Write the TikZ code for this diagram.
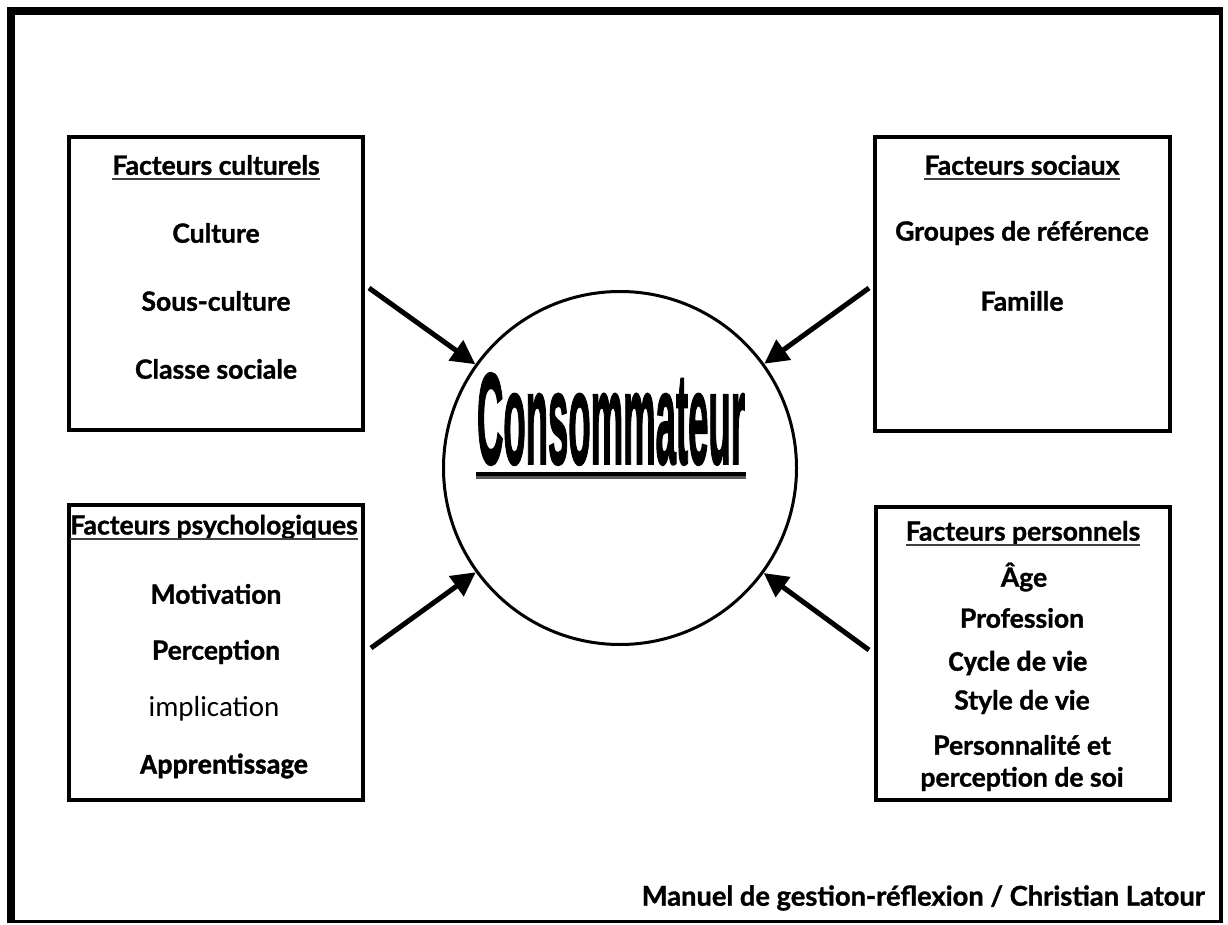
\documentclass[tikz,border=0pt]{standalone}
\usepackage{fontspec}
\usepackage{graphicx}
\setmainfont{Lato}[BoldFeatures={FakeBold=1.2}]
\newfontfamily\calfont{Carlito}[BoldFeatures={FakeBold=1.2}]
\newfontfamily\bigfont{Liberation Sans}[BoldFeatures={FakeBold=2}]
\usetikzlibrary{arrows.meta}
\begin{document}
\begin{tikzpicture}[x=1pt,y=-1pt,
  factorbox/.style={draw=black,line width=4pt,rectangle,inner sep=0pt},
  txt/.style={font=\fontsize{26.5}{30}\selectfont\bfseries,inner sep=0pt,anchor=center},
  ttl/.style={txt},
  ttlline/.style={draw=black!75,line width=1.8pt},
  caltxt/.style={txt,font=\calfont\fontsize{28.5}{32}\selectfont\bfseries},
  arr/.style={line width=5pt,-{Triangle[length=24pt,width=24pt]}}]
\useasboundingbox (0,0) rectangle (1228,925);
% outer frame: heavy left/top edges, thin right/bottom edges
\fill[black] (7,7) rectangle (15,923);
\fill[black] (7,7) rectangle (1223,15);
\fill[black] (1219,7) rectangle (1223,923);
\fill[black] (7,920) rectangle (1223,923);

% factor boxes
\node[factorbox,minimum width=294pt,minimum height=293pt] (cult) at (216,283.5) {};
\node[factorbox,minimum width=295pt,minimum height=294pt] (soc) at (1022.5,284) {};
\node[factorbox,minimum width=294pt,minimum height=295pt] (psy) at (216,652.5) {};
\node[factorbox,minimum width=294pt,minimum height=293pt] (pers) at (1023,653.5) {};

% consumer circle
\node[draw=black,line width=3pt,circle,minimum size=353pt,inner sep=0pt] (cons) at (620,468) {};
\node[inner sep=0pt] (constxt) at (611,419) {\scalebox{0.29}[1.03]{\bigfont\bfseries\fontsize{126}{130}\selectfont Consommateur}};
\fill[black] (476,472) rectangle (746,476);
\fill[black!65] (476,476) rectangle (746,479);

% box texts
\node[ttl] (t1) at (216,165) {Facteurs culturels};
\node[txt] (c1) at (216,233) {Culture};
\node[txt] (c2) at (216,301) {Sous-culture};
\node[txt] (c3) at (216,369) {Classe sociale};

\node[ttl] (t2) at (1022,165) {Facteurs sociaux};
\node[txt] (s1) at (1022,233) {Groupes de référence};
\node[txt] (s2) at (1022,301) {Famille};

\node[ttl] (t3) at (214,527) {Facteurs psychologiques};
\node[txt] (p1) at (216,594) {Motivation};
\node[txt] (p2) at (216,652) {Perception};
\node[caltxt,font=\calfont\fontsize{29}{32}\selectfont] (p3) at (214,709) {implication};
\node[caltxt] (p4) at (224,766) {Apprentissage};

\node[ttl] (t4) at (1023,533) {Facteurs personnels};
\node[txt] (e1) at (1024,577) {Âge};
\node[txt] (e2) at (1022,618) {Profession};
\node[caltxt] (e3) at (1018,663) {Cycle de vie};
\node[txt] (e4) at (1022,702) {Style de vie};
\node[txt] (e5) at (1022,745) {Personnalité et};
\node[txt] (e6) at (1022,779) {perception de soi};

% title underlines
\foreach \t in {t1,t2,t3,t4}
  \draw[ttlline] ([yshift=-4.5pt]\t.base west) -- ([yshift=-4.5pt]\t.base east);

% source line
\node[txt,font=\fontsize{27.3}{30}\selectfont\bfseries,anchor=east] (src) at (1205,898) {Manuel de gestion-réflexion / Christian Latour};

% influence arrows
\coordinate (a1) at (369,288);
\coordinate (a2) at (869,288);
\coordinate (a3) at (371,648);
\coordinate (a4) at (869,650);
\draw[arr] (a1) -- (cons);
\draw[arr] (a2) -- (cons);
\draw[arr] (a3) -- (cons);
\draw[arr] (a4) -- (cons);
\end{tikzpicture}
\end{document}
